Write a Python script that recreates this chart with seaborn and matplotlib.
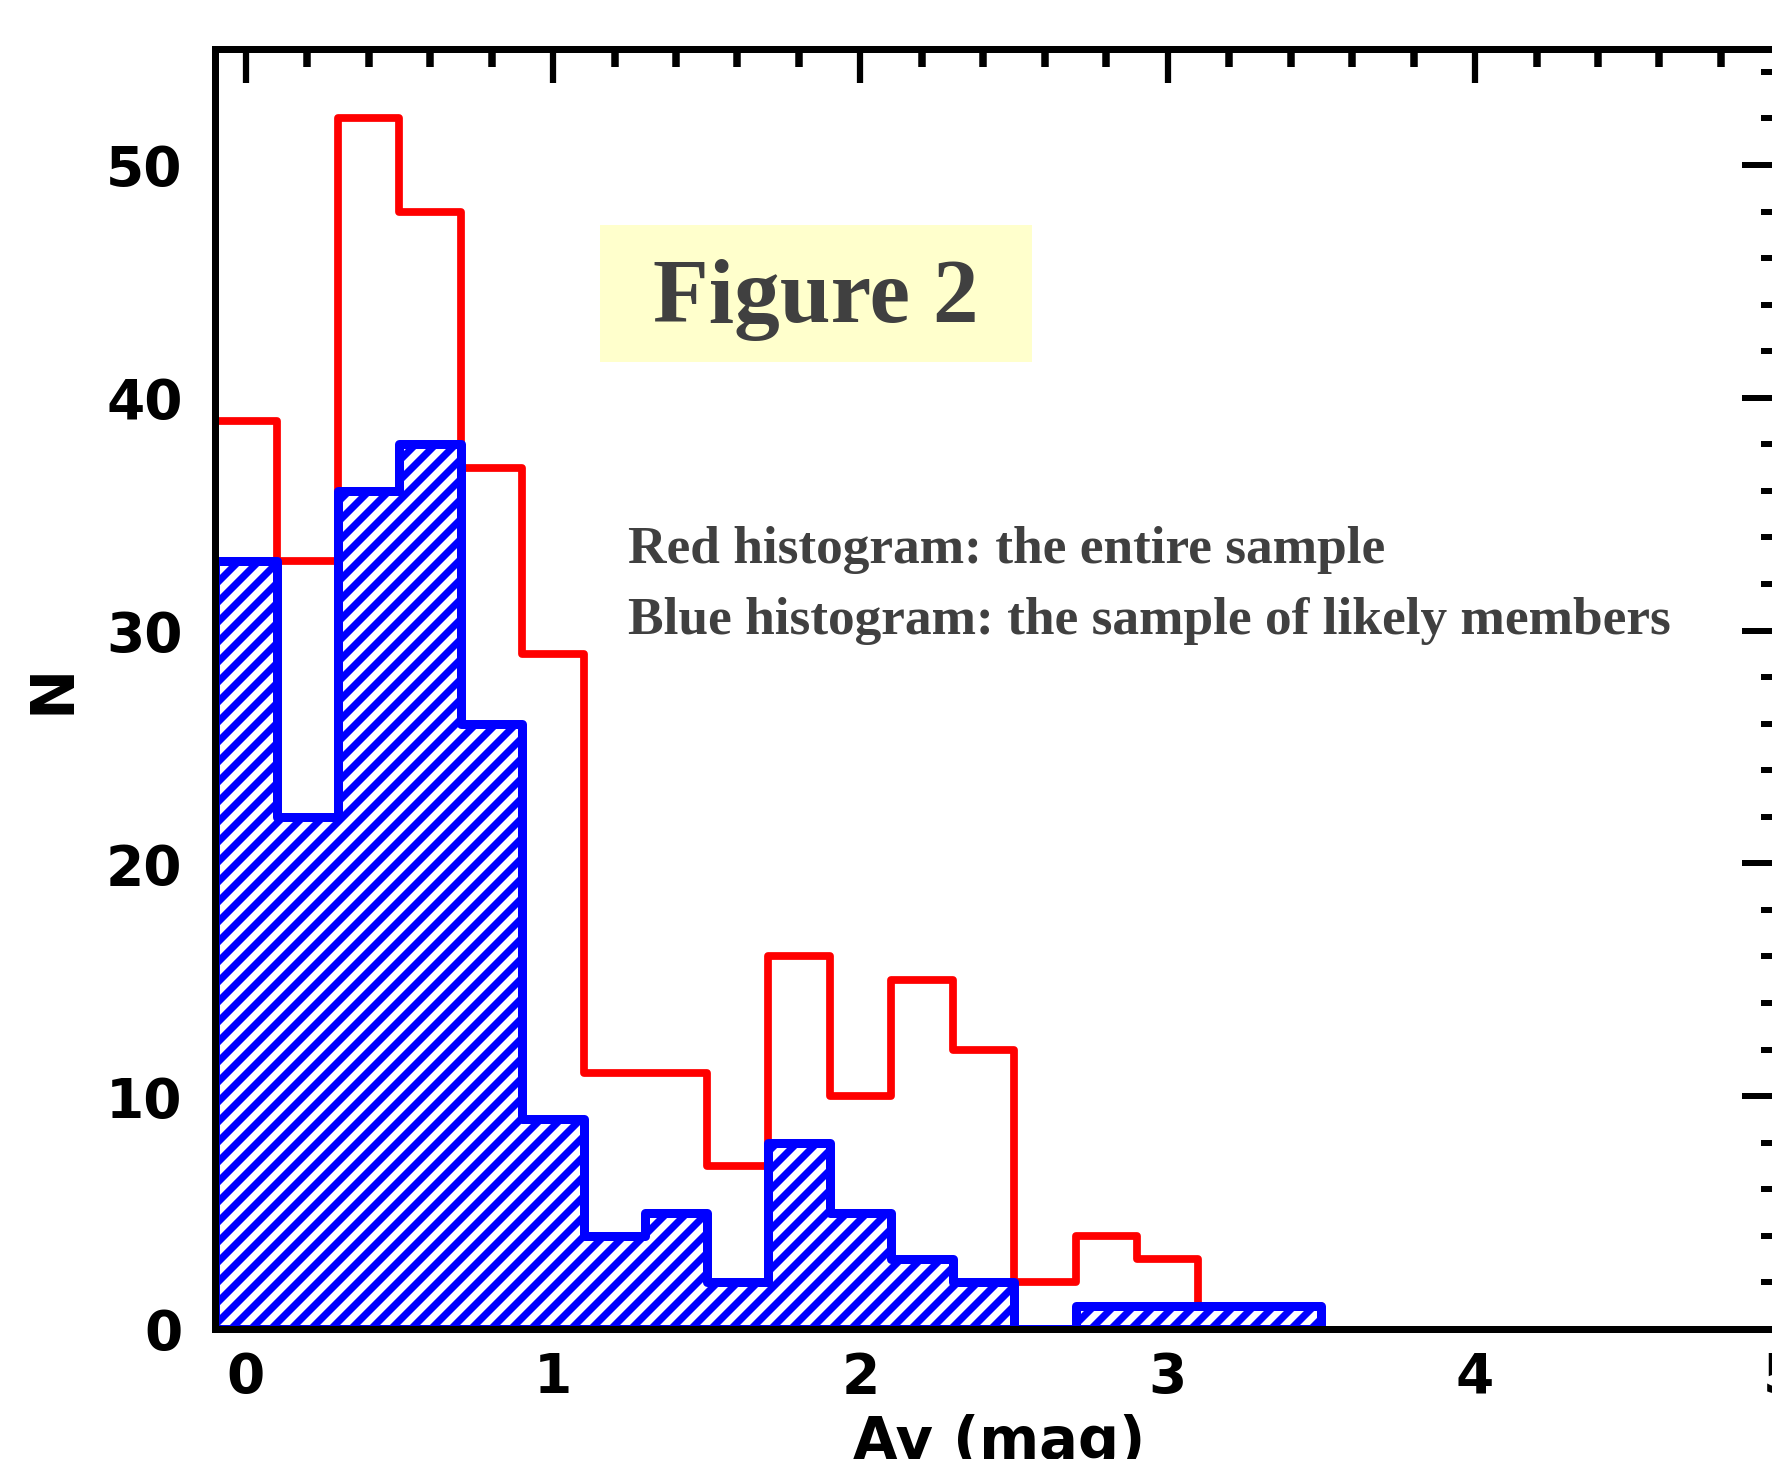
import numpy as np
import pandas as pd
import matplotlib
matplotlib.use("Agg")
import matplotlib.pyplot as plt
import seaborn as sns
from matplotlib.patches import Rectangle
from matplotlib.ticker import MultipleLocator

# ---------------- data ----------------
bin_edges = [-0.1, 0.1, 0.3, 0.5, 0.7, 0.9, 1.1, 1.3, 1.5, 1.7, 1.9,
             2.1, 2.3, 2.5, 2.7, 2.9, 3.1, 3.3, 3.5]
bin_centers = [0.0, 0.2, 0.4, 0.6, 0.8, 1.0, 1.2, 1.4, 1.6, 1.8,
               2.0, 2.2, 2.4, 2.6, 2.8, 3.0, 3.2, 3.4]
red_counts = [39, 33, 52, 48, 37, 29, 11, 11, 7, 16, 10, 15, 12, 2, 4, 3, 1, 1]
blue_counts = [33, 22, 36, 38, 26, 9, 4, 5, 2, 8, 5, 3, 2, 0, 1, 1, 1, 1]
x_major = [0, 1, 2, 3, 4, 5]
y_major = [0, 10, 20, 30, 40, 50]
title_text = "Figure 2"
note_lines = ["Red histogram: the entire sample",
              "Blue histogram: the sample of likely members"]
xlabel_text = "Av (mag)"
ylabel_text = "N"

df = pd.DataFrame({"Av": bin_centers, "red": red_counts, "blue": blue_counts})

# ---------------- style ----------------
DPI = 120
S = 90 / DPI          # sizes below were tuned in points at 90 dpi
W, H = 1772, 1459
sns.set_style("white")
plt.rcParams["hatch.linewidth"] = 4.3
plt.rcParams["hatch.color"] = "#0000FF"
plt.rcParams["font.family"] = ["DejaVu Sans"]

fig = plt.figure(figsize=((W + 0.4) / DPI, (H + 0.4) / DPI), dpi=DPI)
fig.patch.set_facecolor("white")
left, right = 215 / W, 1782 / W
bottom, top = 1 - 1329 / H, 1 - 49 / H
ax = fig.add_axes([left, bottom, right - left, top - bottom])
ax.set_facecolor("white")

# red: entire sample (outline step)
sns.histplot(data=df, x="Av", weights="red", bins=bin_edges, element="step",
             fill=False, color="#FF0000", linewidth=6.2 * S, ax=ax, zorder=2)
# blue: likely members (hatched step)
sns.histplot(data=df, x="Av", weights="blue", bins=bin_edges, element="step",
             fill=True, facecolor="white", edgecolor="#0000FF", hatch="//",
             linewidth=7.2 * S, alpha=1, ax=ax, zorder=3)

ax.set_xlim(-0.1, 5.0)
ax.set_ylim(0, 55)

ax.xaxis.set_major_locator(MultipleLocator(1))
ax.xaxis.set_minor_locator(MultipleLocator(0.2))
ax.yaxis.set_major_locator(MultipleLocator(10))
ax.yaxis.set_minor_locator(MultipleLocator(2))
ax.set_xticks(x_major)
ax.set_xticklabels([str(v) for v in x_major])
ax.set_yticks(y_major)
ax.set_yticklabels([str(v) for v in y_major])

for s in ax.spines.values():
    s.set_visible(True)
    s.set_color("black")
    s.set_linewidth(5.6 * S)
    s.set_zorder(5)

ax.tick_params(axis="both", which="both", direction="in", top=True, right=True,
               labeltop=False, labelright=False, colors="black",
               labelcolor="black")
ax.tick_params(axis="x", which="major", length=27 * S, width=5.0 * S,
               pad=17 * S, labelsize=44 * S)
ax.tick_params(axis="x", which="minor", length=14 * S, width=6.0 * S)
ax.tick_params(axis="y", which="major", length=32 * S, width=4.8 * S,
               pad=26 * S, labelsize=44 * S)
ax.tick_params(axis="y", which="minor", length=17 * S, width=4.8 * S)
for lab in ax.get_xticklabels() + ax.get_yticklabels():
    lab.set_fontweight("bold")

ax.set_xlabel(xlabel_text, fontsize=46 * S, fontweight="bold", color="black")
ax.set_ylabel(ylabel_text, fontsize=48 * S, fontweight="bold", color="black")
ax.xaxis.set_label_coords(0.5, -(1414 - 1329) / (1329 - 49))
ax.yaxis.set_label_coords(-(215 - 82) / (1782 - 215), 0.5)

# yellow title box
ax.add_patch(Rectangle((600 / W, 1 - 362 / H), 432 / W, 137 / H,
                       transform=fig.transFigure, facecolor="#FFFFCC",
                       edgecolor="none", zorder=1, clip_on=False))
serif = ["Liberation Serif", "DejaVu Serif"]
fig.text(653 / W, 1 - 322 / H, title_text, fontsize=73 * S, fontweight="bold",
         family=serif, color="#404040", ha="left", va="baseline", zorder=6)
fig.text(628 / W, 1 - 563 / H, note_lines[0], fontsize=42.7 * S,
         fontweight="bold", family=serif, color="#404040", ha="left",
         va="baseline")
fig.text(628 / W, 1 - 634 / H, note_lines[1], fontsize=42.7 * S,
         fontweight="bold", family=serif, color="#404040", ha="left",
         va="baseline")

fig.savefig("out.png", dpi=DPI, facecolor="white")
